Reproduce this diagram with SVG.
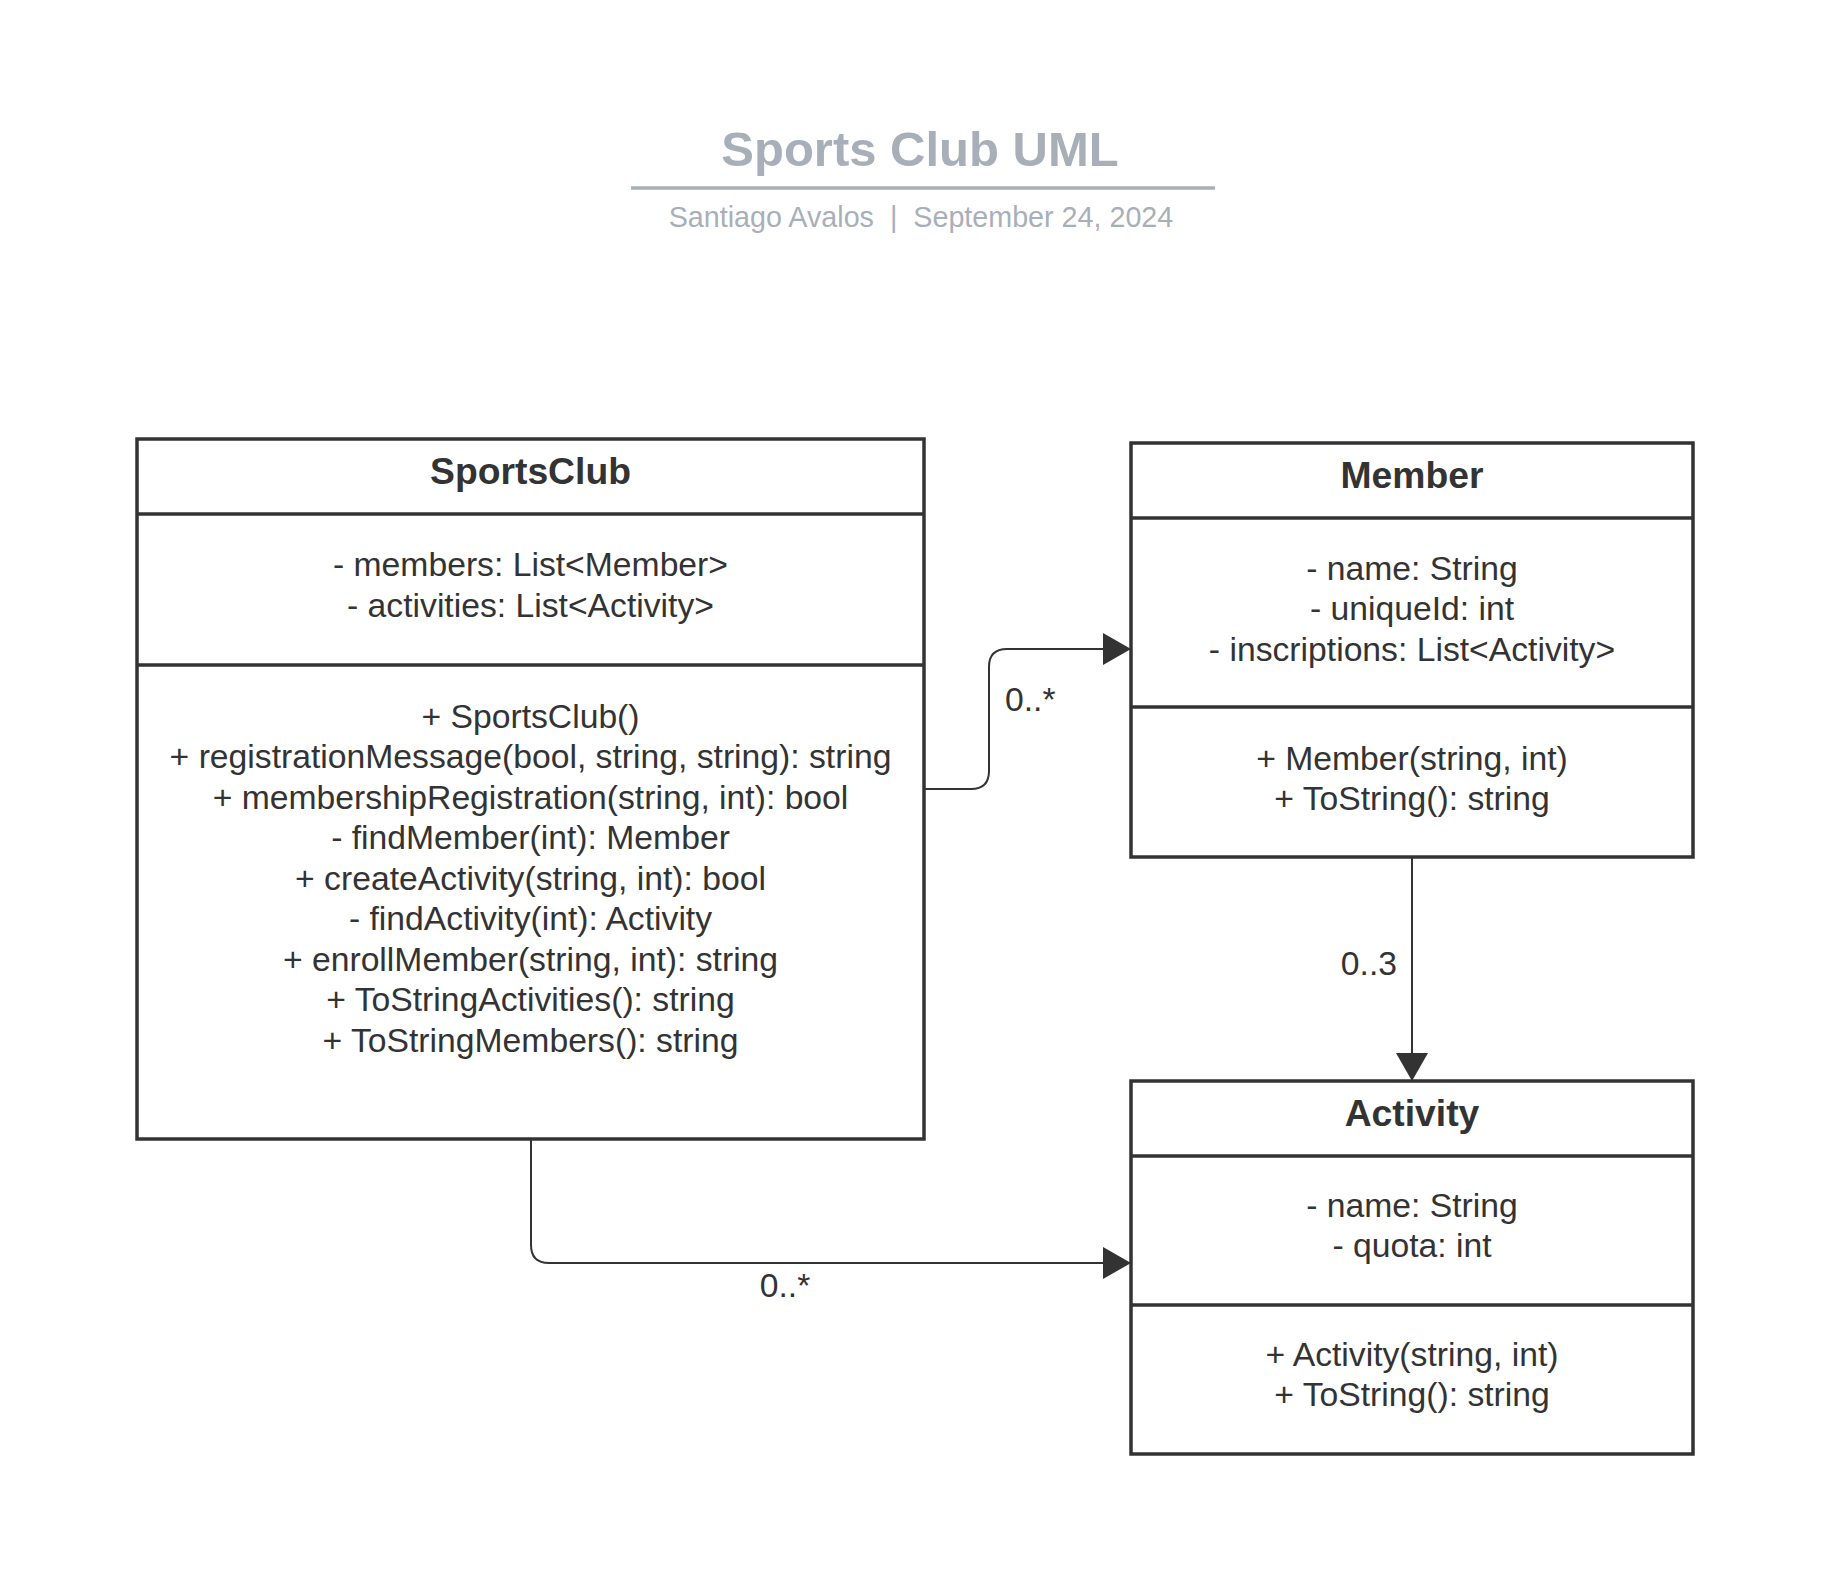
<svg xmlns="http://www.w3.org/2000/svg" width="1830" height="1569" viewBox="0 0 1830 1569">
<style>
text{font-family:"Liberation Sans",Arial,sans-serif;fill:#333333}
.title{font-size:49px;font-weight:bold;fill:#a8afb9}
.sub{font-size:28.7px;fill:#a8afb9;white-space:pre}
.hdr{font-size:37.3px;font-weight:bold;text-anchor:middle}
.body{font-size:33.7px;text-anchor:middle}
.lbl{font-size:33.7px}
.box{fill:#ffffff;stroke:#333333;stroke-width:3.5}
.div{stroke:#333333;stroke-width:3.5}
.conn{fill:none;stroke:#333333;stroke-width:2}
</style>
<defs>
<marker id="arr" viewBox="0 0 28 32" refX="28" refY="16" markerWidth="28" markerHeight="32" orient="auto" markerUnits="userSpaceOnUse">
<path d="M0,0 L28,16 L0,32 Z" fill="#333333"/>
</marker>
</defs>
<rect width="1830" height="1569" fill="#ffffff"/>
<g id="header">
<text class="title" x="920" y="165.5" text-anchor="middle">Sports Club UML</text>
<line x1="631" y1="188" x2="1215" y2="188" stroke="#a8afb9" stroke-width="3.5"/>
<text class="sub" x="921" y="226.5" text-anchor="middle" xml:space="preserve">Santiago Avalos  |  September 24, 2024</text>
</g>
<g id="connectors">
<path class="conn" d="M924,789 H971 Q989,789 989,771 V667 Q989,649 1007,649 H1131" marker-end="url(#arr)"/>
<text class="lbl" x="1005" y="711">0..*</text>
<path class="conn" d="M1412,857 V1081" marker-end="url(#arr)"/>
<text class="lbl" x="1397" y="975" text-anchor="end">0..3</text>
<path class="conn" d="M531,1139 V1245 Q531,1263 549,1263 H1131" marker-end="url(#arr)"/>
<text class="lbl" x="785" y="1297" text-anchor="middle">0..*</text>
</g>
<g id="SportsClub">
<rect class="box" x="137" y="439" width="787" height="700"/>
<line class="div" x1="137" y1="514" x2="924" y2="514"/>
<line class="div" x1="137" y1="665" x2="924" y2="665"/>
<text class="hdr" x="530.5" y="483.5">SportsClub</text>
<text class="body" x="530.5" y="575.5">- members: List&lt;Member&gt;</text>
<text class="body" x="530.5" y="616.5">- activities: List&lt;Activity&gt;</text>
<text class="body" x="530.5" y="727.5">+ SportsClub()</text>
<text class="body" x="530.5" y="768">+ registrationMessage(bool, string, string): string</text>
<text class="body" x="530.5" y="808.5">+ membershipRegistration(string, int): bool</text>
<text class="body" x="530.5" y="849">- findMember(int): Member</text>
<text class="body" x="530.5" y="889.5">+ createActivity(string, int): bool</text>
<text class="body" x="530.5" y="930">- findActivity(int): Activity</text>
<text class="body" x="530.5" y="970.5">+ enrollMember(string, int): string</text>
<text class="body" x="530.5" y="1011">+ ToStringActivities(): string</text>
<text class="body" x="530.5" y="1051.5">+ ToStringMembers(): string</text>
</g>
<g id="Member">
<rect class="box" x="1131" y="443" width="562" height="414"/>
<line class="div" x1="1131" y1="518" x2="1693" y2="518"/>
<line class="div" x1="1131" y1="707" x2="1693" y2="707"/>
<text class="hdr" x="1412" y="487.5">Member</text>
<text class="body" x="1412" y="579.5">- name: String</text>
<text class="body" x="1412" y="620">- uniqueId: int</text>
<text class="body" x="1412" y="660.5">- inscriptions: List&lt;Activity&gt;</text>
<text class="body" x="1412" y="769.5">+ Member(string, int)</text>
<text class="body" x="1412" y="809.5">+ ToString(): string</text>
</g>
<g id="Activity">
<rect class="box" x="1131" y="1081" width="562" height="373"/>
<line class="div" x1="1131" y1="1156" x2="1693" y2="1156"/>
<line class="div" x1="1131" y1="1305" x2="1693" y2="1305"/>
<text class="hdr" x="1412" y="1125.5">Activity</text>
<text class="body" x="1412" y="1216.5">- name: String</text>
<text class="body" x="1412" y="1257">- quota: int</text>
<text class="body" x="1412" y="1365.5">+ Activity(string, int)</text>
<text class="body" x="1412" y="1406">+ ToString(): string</text>
</g>
</svg>
